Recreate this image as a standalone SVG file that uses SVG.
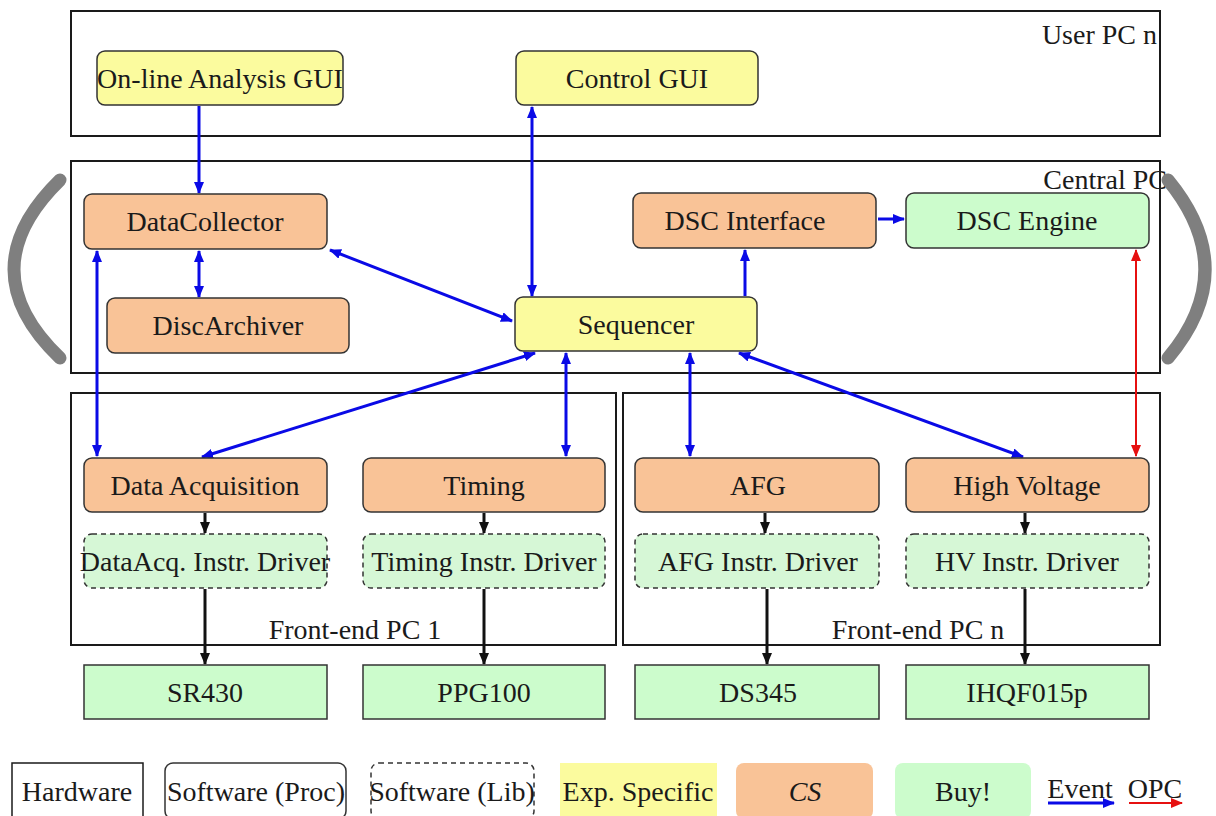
<svg xmlns="http://www.w3.org/2000/svg" width="1216" height="816" viewBox="0 0 1216 816">
<style>
text{font-family:"Liberation Serif","Times New Roman",serif;font-size:28px;fill:#1a1a1a;text-anchor:middle}
.lbl{text-anchor:end}
.cont{fill:none;stroke:#1a1a1a;stroke-width:2}
.yel{fill:#fbfb9e;stroke:#333;stroke-width:1.5}
.org{fill:#f9c397;stroke:#333;stroke-width:1.5}
.grn{fill:#ccfccc;stroke:#333;stroke-width:1.5}
.lib{fill:#d6f7d6;stroke:#333;stroke-width:1.5;stroke-dasharray:5 4}
.hw{fill:#ccfccc;stroke:#333;stroke-width:1.5}
.ev{stroke:#0a0ae6;stroke-width:3;fill:none}
.opc{stroke:#e61010;stroke-width:2;fill:none}
.blk{stroke:#111;stroke-width:3;fill:none}
.brk{stroke:#7f7f7f;stroke-width:13;fill:none;stroke-linecap:round}
</style>
<defs>
<marker id="ab" markerUnits="userSpaceOnUse" markerWidth="12" markerHeight="10" refX="11" refY="5" orient="auto-start-reverse"><path d="M0,0 L12,5 L0,10 z" fill="#0a0ae6"/></marker>
<marker id="ar" markerUnits="userSpaceOnUse" markerWidth="12" markerHeight="10" refX="11" refY="5" orient="auto-start-reverse"><path d="M0,0 L12,5 L0,10 z" fill="#e61010"/></marker>
<marker id="ak" markerUnits="userSpaceOnUse" markerWidth="12" markerHeight="10" refX="11" refY="5" orient="auto-start-reverse"><path d="M0,0 L12,5 L0,10 z" fill="#111"/></marker>
</defs>

<g id="containers">
<rect id="userpc" class="cont" x="71" y="11" width="1089" height="125"/>
<text class="lbl" x="1157" y="44">User PC n</text>
<rect id="centralpc" class="cont" x="71" y="161" width="1089" height="212"/>
<text class="lbl" x="1167" y="189">Central PC</text>
<rect id="fepc1" class="cont" x="71" y="393" width="545" height="252"/>
<text x="355" y="639">Front-end PC 1</text>
<rect id="fepcn" class="cont" x="623" y="393" width="537" height="252"/>
<text x="918" y="639">Front-end PC n</text>
</g>

<g id="brackets">
<path class="brk" d="M60,180 Q-32,270 60,358"/>
<path class="brk" d="M1168,180 Q1242,270 1168,358"/>
</g>

<g id="connectors">
<line class="ev" x1="199" y1="106" x2="199" y2="193" marker-end="url(#ab)"/>
<line class="ev" x1="532" y1="107" x2="532" y2="296" marker-start="url(#ab)" marker-end="url(#ab)"/>
<line class="ev" x1="199" y1="251" x2="199" y2="297" marker-start="url(#ab)" marker-end="url(#ab)"/>
<line class="ev" x1="330" y1="250" x2="512" y2="321" marker-start="url(#ab)" marker-end="url(#ab)"/>
<line class="ev" x1="97" y1="251" x2="97" y2="456" marker-start="url(#ab)" marker-end="url(#ab)"/>
<line class="ev" x1="535" y1="353" x2="202" y2="457" marker-start="url(#ab)" marker-end="url(#ab)"/>
<line class="ev" x1="566" y1="353" x2="566" y2="456" marker-start="url(#ab)" marker-end="url(#ab)"/>
<line class="ev" x1="745" y1="296" x2="745" y2="250" marker-end="url(#ab)"/>
<line class="ev" x1="878" y1="219" x2="904" y2="219" marker-end="url(#ab)"/>
<line class="ev" x1="690" y1="353" x2="690" y2="456" marker-start="url(#ab)" marker-end="url(#ab)"/>
<line class="ev" x1="739" y1="353" x2="1023" y2="457" marker-start="url(#ab)" marker-end="url(#ab)"/>
<line class="opc" x1="1136" y1="250" x2="1136" y2="456" marker-start="url(#ar)" marker-end="url(#ar)"/>
<line class="blk" x1="205" y1="513" x2="205" y2="533" marker-end="url(#ak)"/>
<line class="blk" x1="205" y1="589" x2="205" y2="664" marker-end="url(#ak)"/>
<line class="blk" x1="484" y1="513" x2="484" y2="533" marker-end="url(#ak)"/>
<line class="blk" x1="484" y1="589" x2="484" y2="664" marker-end="url(#ak)"/>
<line class="blk" x1="765" y1="513" x2="765" y2="533" marker-end="url(#ak)"/>
<line class="blk" x1="767" y1="589" x2="767" y2="664" marker-end="url(#ak)"/>
<line class="blk" x1="1025" y1="513" x2="1025" y2="533" marker-end="url(#ak)"/>
<line class="blk" x1="1025" y1="589" x2="1025" y2="664" marker-end="url(#ak)"/>
</g>

<g id="online-gui"><rect class="yel" x="97" y="51" width="246" height="54" rx="8"/><text x="220" y="88">On-line Analysis GUI</text></g>
<g id="control-gui"><rect class="yel" x="516" y="51" width="242" height="54" rx="8"/><text x="637" y="88">Control GUI</text></g>
<g id="datacollector"><rect class="org" x="84" y="194" width="243" height="55" rx="8"/><text x="205" y="231">DataCollector</text></g>
<g id="discarchiver"><rect class="org" x="107" y="298" width="242" height="55" rx="8"/><text x="228" y="335">DiscArchiver</text></g>
<g id="sequencer"><rect class="yel" x="515" y="297" width="242" height="54" rx="8"/><text x="636" y="334">Sequencer</text></g>
<g id="dsc-interface"><rect class="org" x="633" y="193" width="243" height="55" rx="8"/><text x="745" y="230">DSC Interface</text></g>
<g id="dsc-engine"><rect class="grn" x="906" y="193" width="243" height="55" rx="8"/><text x="1027" y="230">DSC Engine</text></g>

<g id="data-acquisition"><rect class="org" x="84" y="458" width="243" height="54" rx="8"/><text x="205" y="495">Data Acquisition</text></g>
<g id="timing"><rect class="org" x="363" y="458" width="242" height="54" rx="8"/><text x="484" y="495">Timing</text></g>
<g id="afg"><rect class="org" x="635" y="458" width="244" height="54" rx="8"/><text x="758" y="495">AFG</text></g>
<g id="high-voltage"><rect class="org" x="906" y="458" width="243" height="54" rx="8"/><text x="1027" y="495">High Voltage</text></g>

<g id="dataacq-driver"><rect class="lib" x="84" y="534" width="243" height="54" rx="8"/><text x="205" y="571">DataAcq. Instr. Driver</text></g>
<g id="timing-driver"><rect class="lib" x="363" y="534" width="242" height="54" rx="8"/><text x="484" y="571">Timing Instr. Driver</text></g>
<g id="afg-driver"><rect class="lib" x="635" y="534" width="244" height="54" rx="8"/><text x="758" y="571">AFG Instr. Driver</text></g>
<g id="hv-driver"><rect class="lib" x="906" y="534" width="243" height="54" rx="8"/><text x="1027" y="571">HV Instr. Driver</text></g>

<g id="sr430"><rect class="hw" x="84" y="665" width="243" height="54"/><text x="205" y="702">SR430</text></g>
<g id="ppg100"><rect class="hw" x="363" y="665" width="242" height="54"/><text x="484" y="702">PPG100</text></g>
<g id="ds345"><rect class="hw" x="635" y="665" width="244" height="54"/><text x="758" y="702">DS345</text></g>
<g id="ihqf015p"><rect class="hw" x="906" y="665" width="243" height="54"/><text x="1027" y="702">IHQF015p</text></g>

<g id="legend">
<rect x="12" y="763" width="131" height="56" fill="none" stroke="#1a1a1a" stroke-width="1.5"/>
<text x="77" y="801">Hardware</text>
<rect x="165" y="763" width="181" height="56" rx="8" fill="none" stroke="#333" stroke-width="1.5"/>
<text x="256" y="801">Software (Proc)</text>
<rect x="371" y="763" width="163" height="56" rx="8" fill="none" stroke="#333" stroke-width="1.5" stroke-dasharray="5 4"/>
<text x="452" y="801">Software (Lib)</text>
<rect x="560" y="763" width="157" height="56" fill="#fbfb9e"/>
<text x="638" y="801">Exp. Specific</text>
<rect x="736" y="763" width="137" height="56" rx="8" fill="#f9c397"/>
<text x="805" y="801" font-style="italic">CS</text>
<rect x="895" y="763" width="136" height="56" rx="8" fill="#ccfccc"/>
<text x="963" y="801">Buy!</text>
<text x="1080" y="798">Event</text>
<line class="ev" x1="1048" y1="803" x2="1114" y2="803" marker-end="url(#ab)"/>
<text x="1155" y="798">OPC</text>
<line class="opc" x1="1129" y1="803" x2="1182" y2="803" stroke-width="3" marker-end="url(#ar)"/>
</g>
</svg>
